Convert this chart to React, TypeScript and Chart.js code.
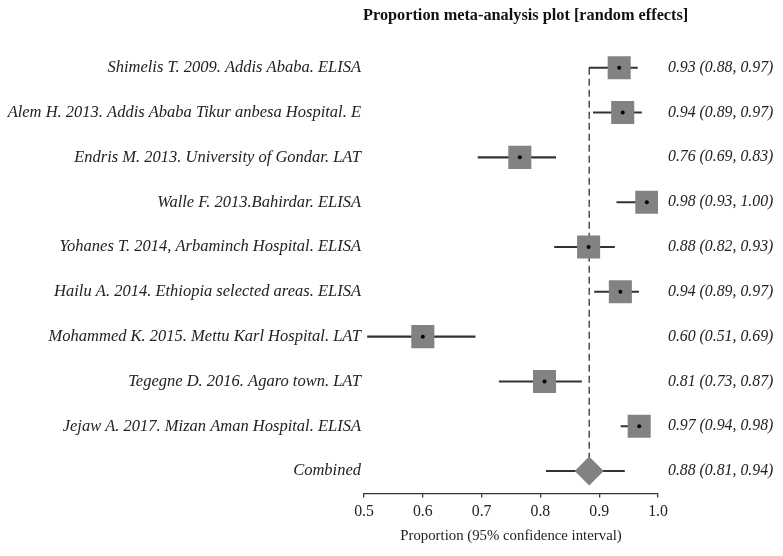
import React, { useEffect, useRef } from 'react';
import { Chart, registerables } from 'chart.js';

Chart.register(...registerables);

const studies = [
  'Shimelis T. 2009. Addis Ababa. ELISA',
  'Alem H. 2013. Addis Ababa Tikur anbesa Hospital. E',
  'Endris M. 2013. University of Gondar. LAT',
  'Walle F. 2013.Bahirdar. ELISA',
  'Yohanes T. 2014, Arbaminch Hospital. ELISA',
  'Hailu A. 2014. Ethiopia selected areas. ELISA',
  'Mohammed K. 2015. Mettu Karl Hospital. LAT',
  'Tegegne D. 2016. Agaro town. LAT',
  'Jejaw A. 2017. Mizan Aman Hospital. ELISA',
];
const estimates = [0.934, 0.94, 0.765, 0.981, 0.882, 0.936, 0.6, 0.807, 0.968];
const lower = [0.883, 0.89, 0.694, 0.93, 0.824, 0.892, 0.506, 0.73, 0.937];
const upper = [0.965, 0.972, 0.826, 0.998, 0.926, 0.967, 0.689, 0.87, 0.985];
const estimateLabels = [
  '0.93 (0.88, 0.97)',
  '0.94 (0.89, 0.97)',
  '0.76 (0.69, 0.83)',
  '0.98 (0.93, 1.00)',
  '0.88 (0.82, 0.93)',
  '0.94 (0.89, 0.97)',
  '0.60 (0.51, 0.69)',
  '0.81 (0.73, 0.87)',
  '0.97 (0.94, 0.98)',
];
const combinedName = 'Combined';
const combinedEstimate = 0.883;
const combinedLower = 0.81;
const combinedUpper = 0.943;
const combinedText = '0.88 (0.81, 0.94)';
const xMin = 0.5;
const xMax = 1.0;
const xStep = 0.1;

const chartTitle = 'Proportion meta-analysis plot [random effects]';
const xTitle = 'Proportion (95% confidence interval)';

const SERIF = "'Liberation Serif', 'Times New Roman', serif";

const titlePlugin = {
  id: 'leftTitle',
  afterDraw(chart: any) {
    const { ctx, chartArea } = chart;
    ctx.save();
    ctx.font = `bold 16.3px ${SERIF}`;
    ctx.fillStyle = '#111';
    ctx.textAlign = 'left';
    ctx.textBaseline = 'alphabetic';
    ctx.fillText(chartTitle, chartArea.left - 1, 19.5);
    ctx.restore();
  },
};

export default function App() {
  const ref = useRef<HTMLCanvasElement | null>(null);

  useEffect(() => {
    if (!ref.current) return;
    const leftLabels = [...studies, combinedName];
    const rightLabels = [...estimateLabels, combinedText];
    const rowIdx = studies.map((_, i) => i);

    const chart = new Chart(ref.current, {
      type: 'scatter',
      plugins: [titlePlugin],
      data: {
        datasets: [
          {
            label: 'point',
            data: rowIdx.map((i) => ({ x: estimates[i], y: studies[i] })),
            pointStyle: 'circle',
            pointRadius: 2,
            backgroundColor: '#000',
            borderWidth: 0,
            yAxisID: 'y',
          } as any,
          {
            label: 'weight',
            data: rowIdx.map((i) => ({ x: estimates[i], y: studies[i] })),
            pointStyle: 'rect',
            pointRadius: 16.3,
            backgroundColor: '#828282',
            borderWidth: 0,
            yAxisID: 'y',
          } as any,
          {
            label: 'pooled',
            data: [{ x: combinedEstimate, y: combinedName }],
            pointStyle: 'rectRot',
            pointRadius: 14.5,
            backgroundColor: '#828282',
            borderWidth: 0,
            yAxisID: 'y',
          } as any,
          {
            type: 'bar',
            label: 'ci',
            indexAxis: 'y',
            data: [
              ...rowIdx.map((i) => ({ y: studies[i], x: [lower[i], upper[i]] })),
              { y: combinedName, x: [combinedLower, combinedUpper] },
            ],
            backgroundColor: '#333',
            barThickness: 1.4,
            borderWidth: 0,
            yAxisID: 'y',
          } as any,
          {
            type: 'line',
            label: 'ref',
            data: [
              { x: combinedEstimate, y: studies[0] },
              { x: combinedEstimate, y: combinedName },
            ],
            borderColor: '#333',
            borderWidth: 1.3,
            borderDash: [7, 4],
            pointRadius: 0,
            fill: false,
            yAxisID: 'y',
          } as any,
        ],
      },
      options: {
        animation: false,
        responsive: false,
        devicePixelRatio: 1,
        layout: { padding: { top: 45.3, left: 0, right: 0, bottom: 0 } },
        plugins: {
          legend: { display: false },
          tooltip: { enabled: false },
          title: { display: false },
        },
        scales: {
          x: {
            type: 'linear',
            position: 'bottom',
            min: xMin,
            max: xMax,
            ticks: {
              stepSize: xStep,
              color: '#222',
              font: { family: SERIF, size: 15.8 },
              padding: 5,
              callback: (v: any) => Number(v).toFixed(1),
            },
            grid: { drawOnChartArea: false, drawTicks: true, tickLength: 4, color: '#333', lineWidth: 1.3 },
            border: { display: true, color: '#333', width: 1.3 },
            title: {
              display: true,
              text: xTitle,
              color: '#222',
              font: { family: SERIF, size: 14.8 },
              padding: { top: 0, bottom: 11 },
            },
            afterFit: (s: any) => {
              s.height = 62.5;
            },
          },
          y: {
            type: 'category',
            position: 'left',
            labels: leftLabels,
            offset: true,
            grid: { display: false, drawTicks: false, tickLength: 0 },
            border: { display: false },
            ticks: {
              color: '#222',
              font: { family: SERIF, size: 16.5, style: 'italic' },
              padding: 3,
              autoSkip: false,
            },
            afterFit: (s: any) => {
              s.width = 364;
            },
          },
          y2: {
            type: 'category',
            position: 'right',
            labels: rightLabels,
            offset: true,
            grid: { display: false, drawTicks: false, tickLength: 0 },
            border: { display: false },
            ticks: {
              color: '#222',
              font: { family: SERIF, size: 15.8, style: 'italic' },
              padding: 10,
              autoSkip: false,
            },
            afterFit: (s: any) => {
              s.width = 125;
            },
          },
        },
      } as any,
    });
    return () => chart.destroy();
  }, []);

  return (
    <div style={{ position: 'fixed', left: 0, top: 0, width: 783, height: 556, background: '#fff' }}>
      <canvas ref={ref} width={783} height={556} style={{ display: 'block' }} />
    </div>
  );
}
